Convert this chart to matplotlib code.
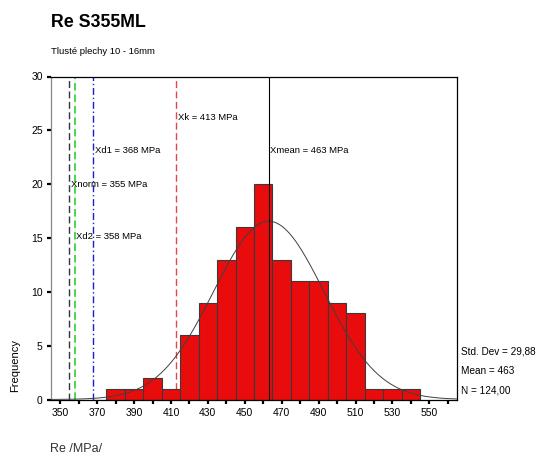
import numpy as np
import matplotlib
matplotlib.use('Agg')
import matplotlib.pyplot as plt

plt.rcParams['font.family'] = ['Liberation Sans', 'DejaVu Sans']

# histogram data (bin centres, width 10 MPa)
bin_centers = [360, 370, 380, 390, 400, 410, 420, 430, 440, 450,
               460, 470, 480, 490, 500, 510, 520, 530, 540]
counts = [0, 0, 1, 1, 2, 1, 6, 9, 13, 16,
          20, 13, 11, 11, 9, 8, 1, 1, 1]

# summary statistics
mean_val = 463
std_val = 29.88
n_val = 124

# reference lines
ref_names = ['Xnorm', 'Xd2', 'Xd1', 'Xk', 'Xmean']
ref_values = [355, 358, 368, 413, 463]

x_ticks = list(range(350, 561, 10))
x_labels = [str(t) if (t - 350) % 20 == 0 else '' for t in x_ticks]
y_ticks = [0, 5, 10, 15, 20, 25, 30]

W, H = 539, 457
fig = plt.figure(figsize=(W / 100, H / 100), dpi=100)
ax = fig.add_axes([51 / W, 1 - 399.5 / H, (457 - 51) / W, (399.5 - 76.5) / H])

# reference lines (behind bars except the mean)
styles = {
    'Xnorm': dict(color='#33334a', ls=(0, (5, 2.5)), lw=1.0, zorder=1),
    'Xd2': dict(color='#18d018', ls=(0, (5, 2.5)), lw=1.1, zorder=1),
    'Xd1': dict(color='#1c1cd0', ls=(0, (5, 2, 1, 2)), lw=1.0, zorder=1),
    'Xk': dict(color='#e04848', ls=(0, (5, 2.5)), lw=1.0, zorder=1),
    'Xmean': dict(color='black', ls='-', lw=0.8, zorder=5),
}
label_y = {'Xnorm': 20.0, 'Xd2': 15.1, 'Xd1': 23.1, 'Xk': 26.2, 'Xmean': 23.1}
for name, val in zip(ref_names, ref_values):
    ax.axvline(val, **styles[name])
    ax.text(val + 0.8, label_y[name], '%s = %d MPa' % (name, val),
            fontsize=6.8, va='center', ha='left', zorder=6)

# histogram bars
ax.bar(bin_centers, counts, width=10, color='#e80c0c', edgecolor='#3a3a3a',
       linewidth=0.8, zorder=2)

# normal curve
xs = np.linspace(345, 565, 300)
ys = n_val * 10 / (std_val * np.sqrt(2 * np.pi)) * np.exp(-0.5 * ((xs - mean_val) / std_val) ** 2)
ax.plot(xs, ys, color='#404040', lw=0.7, zorder=4)

ax.set_xlim(345, 565)
ax.set_ylim(0, 30)
ax.set_xticks(x_ticks)
ax.set_xticklabels(x_labels, fontsize=7.5)
ax.set_yticks(y_ticks)
ax.set_yticklabels([str(t) for t in y_ticks], fontsize=7.5)
ax.tick_params(direction='out', length=3, width=1.6, pad=3)

for side in ['top', 'right', 'bottom']:
    ax.spines[side].set_color('black')
    ax.spines[side].set_linewidth(0.9)
ax.spines['left'].set_color('#888888')
ax.spines['left'].set_linewidth(0.9)

# statistics box text
stats = ['Std. Dev = 29,88', 'Mean = 463', 'N = 124,00']
for txt, ypix in zip(stats, [352, 371.5, 390.5]):
    fig.text(461 / W, 1 - ypix / H, txt, fontsize=7.2, va='center', ha='left')

# titles and axis labels
fig.text(51 / W, 1 - 26.7 / H, 'Re S355ML', fontsize=12.8, fontweight='bold',
         va='baseline', ha='left')
fig.text(51 / W, 1 - 52 / H, 'Tlusté plechy 10 - 16mm', fontsize=6.8,
         va='center', ha='left')
fig.text(15 / W, 1 - 366 / H, 'Frequency', fontsize=8, rotation=90,
         va='center', ha='center')
fig.text(50 / W, 1 - 449 / H, 'Re /MPa/', fontsize=9, color='#333333',
         va='center', ha='left')

fig.savefig('out.png', dpi=100)
